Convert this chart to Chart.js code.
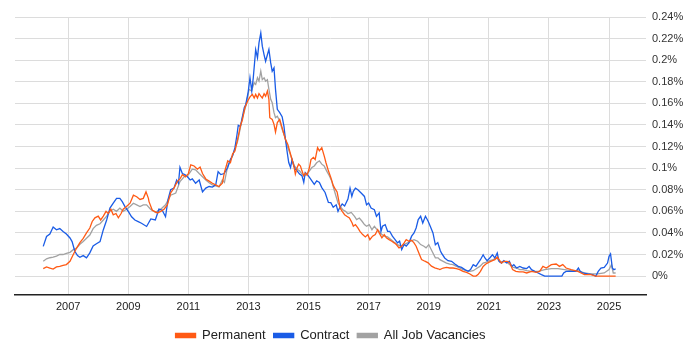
<!DOCTYPE html>
<html>
<head>
<meta charset="utf-8">
<script src="https://cdn.jsdelivr.net/npm/chart.js@4.4.1/dist/chart.umd.min.js"></script>
<style>
html,body{margin:0;padding:0;background:#fff;}
#wrap{width:700px;height:350px;position:relative;}
</style>
</head>
<body>
<div id="wrap"><canvas id="c" width="700" height="350"></canvas></div>
<script>
// X tick labels (years)
const tickYears = [2007, 2009, 2011, 2013, 2015, 2017, 2019, 2021, 2023, 2025];
// Y ticks (percent)
const yTicks = [0, 0.02, 0.04, 0.06, 0.08, 0.1, 0.12, 0.14, 0.16, 0.18, 0.2, 0.22, 0.24];

// Permanent series
const permYears = [2006.17,2006.28,2006.39,2006.5,2006.61,2006.72,2006.83,2006.94,2007.06,2007.17,2007.28,2007.39,2007.5,2007.61,2007.72,2007.8,2007.89,2008.0,2008.08,2008.17,2008.26,2008.33,2008.42,2008.5,2008.59,2008.67,2008.76,2008.83,2008.94,2009.06,2009.17,2009.28,2009.39,2009.5,2009.59,2009.67,2009.69,2009.8,2009.97,2010.08,2010.19,2010.3,2010.41,2010.52,2010.63,2010.72,2010.8,2010.91,2011.0,2011.08,2011.19,2011.3,2011.39,2011.47,2011.58,2011.69,2011.8,2011.91,2012.02,2012.13,2012.2,2012.31,2012.4,2012.47,2012.55,2012.64,2012.73,2012.8,2012.88,2012.97,2013.05,2013.13,2013.19,2013.24,2013.3,2013.35,2013.41,2013.46,2013.52,2013.57,2013.63,2013.68,2013.71,2013.79,2013.85,2013.9,2013.96,2014.04,2014.12,2014.18,2014.23,2014.31,2014.37,2014.45,2014.51,2014.56,2014.62,2014.67,2014.73,2014.78,2014.84,2014.89,2014.95,2015.03,2015.08,2015.16,2015.22,2015.3,2015.36,2015.44,2015.52,2015.58,2015.66,2015.74,2015.82,2015.9,2015.95,2016.01,2016.05,2016.12,2016.2,2016.27,2016.36,2016.45,2016.49,2016.56,2016.64,2016.71,2016.8,2016.89,2016.97,2017.04,2017.13,2017.22,2017.3,2017.35,2017.44,2017.52,2017.59,2017.68,2017.77,2017.85,2017.92,2018.01,2018.1,2018.18,2018.25,2018.34,2018.43,2018.51,2018.58,2018.67,2018.76,2018.87,2018.98,2019.09,2019.2,2019.31,2019.37,2019.48,2019.59,2019.7,2019.81,2019.92,2020.03,2020.14,2020.26,2020.37,2020.48,2020.57,2020.64,2020.72,2020.81,2020.9,2021.01,2021.12,2021.2,2021.28,2021.34,2021.42,2021.5,2021.61,2021.7,2021.79,2021.9,2022.01,2022.14,2022.26,2022.42,2022.58,2022.69,2022.8,2022.91,2023.08,2023.24,2023.35,2023.46,2023.57,2023.74,2023.96,2024.07,2024.18,2024.4,2024.56,2024.84,2025.05,2025.22];
const permValues = [0.0069,0.0085,0.0075,0.0065,0.0085,0.009,0.010,0.0107,0.0137,0.020,0.026,0.031,0.035,0.040,0.0445,0.0506,0.054,0.0555,0.052,0.0555,0.060,0.058,0.062,0.0568,0.058,0.054,0.058,0.062,0.0645,0.0675,0.075,0.0735,0.071,0.072,0.078,0.072,0.069,0.061,0.0585,0.060,0.062,0.066,0.077,0.0815,0.0875,0.090,0.094,0.092,0.095,0.103,0.102,0.099,0.101,0.095,0.090,0.088,0.086,0.0845,0.083,0.086,0.096,0.1068,0.105,0.113,0.116,0.1268,0.139,0.145,0.156,0.162,0.166,0.1683,0.165,0.1683,0.165,0.169,0.1667,0.165,0.169,0.1667,0.1714,0.1637,0.1467,0.1452,0.1406,0.1335,0.1422,0.1452,0.1375,0.1314,0.1268,0.122,0.116,0.108,0.102,0.0945,0.1006,0.1037,0.102,0.0975,0.093,0.0954,0.0935,0.1006,0.108,0.110,0.108,0.119,0.116,0.119,0.1114,0.105,0.0975,0.0914,0.084,0.080,0.078,0.0692,0.063,0.060,0.0569,0.0554,0.0538,0.0492,0.0462,0.0477,0.0446,0.0415,0.0385,0.0363,0.0385,0.0338,0.037,0.0385,0.043,0.040,0.0354,0.0385,0.0354,0.0338,0.0323,0.0308,0.0292,0.0262,0.0277,0.0308,0.0338,0.0323,0.0332,0.0308,0.0277,0.0215,0.0154,0.0138,0.0123,0.0092,0.0077,0.0068,0.006,0.0075,0.0081,0.0075,0.0075,0.007,0.006,0.0044,0.0035,0.002,0.0,0.0,0.0014,0.0044,0.009,0.0112,0.013,0.0143,0.0152,0.0176,0.0152,0.0121,0.0137,0.0137,0.0121,0.006,0.0044,0.004,0.004,0.0029,0.0044,0.0035,0.0044,0.009,0.0075,0.0106,0.0112,0.009,0.0106,0.0075,0.006,0.0044,0.0029,0.0014,0.0014,0.0,0.0,0.0,0.0];

// Contract series
const contYears = [2006.17,2006.28,2006.39,2006.5,2006.61,2006.72,2006.83,2006.94,2007.06,2007.13,2007.22,2007.31,2007.39,2007.5,2007.61,2007.72,2007.83,2007.94,2008.06,2008.17,2008.28,2008.39,2008.5,2008.61,2008.72,2008.8,2008.89,2009.0,2009.11,2009.22,2009.33,2009.44,2009.61,2009.75,2009.9,2010.02,2010.13,2010.24,2010.32,2010.41,2010.52,2010.61,2010.67,2010.72,2010.8,2010.88,2010.97,2011.06,2011.13,2011.24,2011.36,2011.47,2011.58,2011.69,2011.8,2011.91,2011.99,2012.08,2012.19,2012.31,2012.4,2012.47,2012.55,2012.62,2012.66,2012.73,2012.8,2012.86,2012.91,2012.99,2013.05,2013.11,2013.16,2013.24,2013.3,2013.35,2013.41,2013.46,2013.52,2013.57,2013.63,2013.68,2013.74,2013.79,2013.85,2013.9,2013.96,2014.04,2014.12,2014.18,2014.23,2014.29,2014.34,2014.4,2014.45,2014.51,2014.56,2014.62,2014.7,2014.78,2014.84,2014.89,2014.95,2015.03,2015.11,2015.19,2015.27,2015.36,2015.44,2015.55,2015.66,2015.74,2015.82,2015.92,2015.98,2016.03,2016.12,2016.2,2016.31,2016.38,2016.44,2016.49,2016.56,2016.64,2016.75,2016.86,2016.93,2017.0,2017.08,2017.19,2017.26,2017.35,2017.41,2017.46,2017.55,2017.63,2017.7,2017.79,2017.88,2017.96,2018.03,2018.1,2018.18,2018.25,2018.34,2018.43,2018.51,2018.58,2018.65,2018.73,2018.8,2018.89,2018.98,2019.05,2019.14,2019.22,2019.3,2019.38,2019.42,2019.53,2019.64,2019.76,2019.87,2019.98,2020.09,2020.2,2020.31,2020.39,2020.48,2020.57,2020.64,2020.72,2020.81,2020.87,2020.94,2021.03,2021.12,2021.2,2021.28,2021.34,2021.42,2021.5,2021.59,2021.68,2021.76,2021.83,2021.92,2022.03,2022.14,2022.26,2022.34,2022.42,2022.53,2022.64,2022.75,2022.86,2023.08,2023.3,2023.43,2023.49,2023.57,2023.74,2023.9,2023.98,2024.04,2024.12,2024.29,2024.45,2024.56,2024.64,2024.73,2024.84,2024.95,2025.0,2025.05,2025.11,2025.16,2025.22];
const contValues = [0.0275,0.0367,0.039,0.0454,0.0429,0.044,0.0414,0.039,0.0353,0.032,0.023,0.019,0.0175,0.019,0.017,0.0215,0.028,0.030,0.032,0.043,0.052,0.063,0.0675,0.072,0.072,0.069,0.0644,0.060,0.055,0.052,0.0505,0.049,0.046,0.053,0.052,0.062,0.061,0.055,0.0706,0.080,0.0815,0.089,0.086,0.1008,0.095,0.094,0.092,0.089,0.090,0.086,0.089,0.078,0.0815,0.083,0.0825,0.0845,0.0967,0.094,0.095,0.1006,0.1083,0.1114,0.119,0.1314,0.1397,0.1385,0.148,0.156,0.159,0.1705,0.1837,0.1714,0.1837,0.2098,0.2022,0.216,0.2252,0.213,0.205,0.199,0.205,0.210,0.1975,0.1898,0.193,0.173,0.1545,0.1514,0.1477,0.139,0.1268,0.1145,0.1052,0.1006,0.108,0.102,0.099,0.0975,0.0945,0.093,0.0868,0.096,0.0945,0.0914,0.0883,0.085,0.0883,0.0868,0.082,0.0775,0.0683,0.068,0.0637,0.066,0.06,0.063,0.0668,0.065,0.0714,0.0815,0.0738,0.0785,0.0815,0.080,0.077,0.0738,0.066,0.0677,0.063,0.0615,0.0554,0.0585,0.0415,0.0462,0.0477,0.0415,0.0415,0.037,0.0338,0.0308,0.0323,0.0246,0.0292,0.0277,0.0308,0.037,0.040,0.0446,0.0523,0.0554,0.0492,0.0554,0.0508,0.0462,0.040,0.029,0.031,0.024,0.0215,0.0168,0.0143,0.0137,0.0112,0.009,0.0081,0.006,0.0044,0.006,0.0106,0.009,0.0121,0.0152,0.0198,0.0168,0.0143,0.0168,0.0198,0.0168,0.0214,0.0137,0.0121,0.0143,0.0121,0.0137,0.009,0.0106,0.0075,0.009,0.0075,0.007,0.009,0.006,0.0044,0.0029,0.0014,0.0,0.0,0.0,0.0,0.0029,0.0044,0.0044,0.0044,0.0075,0.0044,0.0029,0.002,0.0014,0.0,0.0044,0.0075,0.0081,0.0121,0.0183,0.0205,0.0075,0.006,0.0066];

// All Job Vacancies series
const allYears = [2006.17,2006.28,2006.39,2006.5,2006.61,2006.72,2006.83,2006.94,2007.06,2007.17,2007.28,2007.39,2007.5,2007.61,2007.72,2007.83,2007.94,2008.06,2008.17,2008.28,2008.39,2008.5,2008.61,2008.72,2008.83,2008.94,2009.06,2009.17,2009.28,2009.39,2009.5,2009.61,2009.74,2009.91,2010.08,2010.24,2010.41,2010.58,2010.72,2010.86,2011.0,2011.13,2011.24,2011.36,2011.47,2011.58,2011.69,2011.8,2011.91,2012.02,2012.13,2012.2,2012.31,2012.47,2012.64,2012.8,2012.91,2013.02,2013.1,2013.19,2013.24,2013.3,2013.35,2013.41,2013.46,2013.52,2013.57,2013.63,2013.68,2013.74,2013.79,2013.85,2013.9,2013.96,2014.04,2014.12,2014.2,2014.29,2014.37,2014.45,2014.53,2014.62,2014.7,2014.78,2014.86,2014.95,2015.03,2015.11,2015.19,2015.27,2015.36,2015.44,2015.52,2015.6,2015.69,2015.77,2015.85,2015.98,2016.05,2016.14,2016.23,2016.31,2016.42,2016.53,2016.6,2016.69,2016.78,2016.86,2016.93,2017.02,2017.11,2017.19,2017.26,2017.35,2017.44,2017.52,2017.63,2017.74,2017.85,2017.96,2018.07,2018.18,2018.29,2018.4,2018.51,2018.63,2018.73,2018.84,2018.91,2019.0,2019.11,2019.22,2019.31,2019.37,2019.48,2019.59,2019.7,2019.81,2019.92,2020.03,2020.14,2020.26,2020.37,2020.48,2020.59,2020.7,2020.81,2020.92,2021.03,2021.14,2021.26,2021.37,2021.48,2021.59,2021.7,2021.81,2021.92,2022.03,2022.14,2022.26,2022.42,2022.64,2022.86,2023.08,2023.3,2023.52,2023.74,2023.96,2024.18,2024.4,2024.62,2024.84,2025.0,2025.08,2025.14,2025.22];
const allValues = [0.0137,0.016,0.017,0.0175,0.0185,0.020,0.020,0.021,0.022,0.0245,0.026,0.0295,0.032,0.035,0.038,0.044,0.047,0.0485,0.052,0.0555,0.060,0.062,0.060,0.063,0.060,0.062,0.0645,0.0675,0.066,0.0645,0.066,0.066,0.062,0.059,0.062,0.066,0.075,0.077,0.0875,0.092,0.094,0.099,0.0985,0.095,0.092,0.089,0.0865,0.0845,0.0835,0.0825,0.089,0.0868,0.102,0.1114,0.125,0.1468,0.1575,0.173,0.1714,0.179,0.1775,0.1837,0.1806,0.1898,0.182,0.1837,0.1806,0.182,0.173,0.1637,0.1606,0.1514,0.1468,0.148,0.1437,0.136,0.1298,0.1206,0.1145,0.108,0.102,0.099,0.0975,0.0945,0.093,0.0945,0.0975,0.1006,0.102,0.105,0.1068,0.1037,0.102,0.0975,0.093,0.088,0.080,0.0677,0.0646,0.0615,0.060,0.0578,0.059,0.0554,0.0523,0.0538,0.0508,0.0477,0.0462,0.0477,0.043,0.0462,0.0437,0.0415,0.0385,0.037,0.0363,0.0338,0.0314,0.0292,0.0277,0.0292,0.0308,0.0323,0.0338,0.0323,0.0292,0.0277,0.0262,0.0292,0.0231,0.0169,0.0169,0.0152,0.0137,0.0121,0.0112,0.0106,0.009,0.0075,0.006,0.005,0.0044,0.005,0.007,0.009,0.0121,0.013,0.0143,0.0152,0.0168,0.013,0.0137,0.013,0.0106,0.0081,0.0075,0.006,0.006,0.005,0.0044,0.0044,0.006,0.007,0.007,0.006,0.005,0.005,0.0029,0.002,0.002,0.0029,0.006,0.0106,0.0029,0.0029];

const toPoints = (xs, ys) => xs.map((x, i) => ({ x: x, y: ys[i] }));

const ctx = document.getElementById('c').getContext('2d');
new Chart(ctx, {
  type: 'line',
  data: {
    datasets: [
      { label: 'Permanent', data: toPoints(permYears, permValues), borderColor: '#FF5A14', backgroundColor: '#FF5A14', borderWidth: 1.3, pointRadius: 0, tension: 0 },
      { label: 'Contract', data: toPoints(contYears, contValues), borderColor: '#1A5CE6', backgroundColor: '#1A5CE6', borderWidth: 1.3, pointRadius: 0, tension: 0 },
      { label: 'All Job Vacancies', data: toPoints(allYears, allValues), borderColor: '#A2A2A2', backgroundColor: '#A2A2A2', borderWidth: 1.3, pointRadius: 0, tension: 0 }
    ]
  },
  options: {
    responsive: false,
    animation: false,
    events: [],
    layout: { padding: { left: 15, top: 17, right: 0, bottom: -2 } },
    plugins: {
      tooltip: { enabled: false },
      legend: {
        position: 'bottom',
        fullSize: false,
        labels: {
          boxWidth: 20, boxHeight: 4, padding: 8,
          color: '#222',
          font: { family: 'Arial, "Liberation Sans", sans-serif', size: 13 }
        }
      }
    },
    scales: {
      x: {
        type: 'linear',
        min: 2005.23, max: 2026.23,
        afterBuildTicks: (s) => { s.ticks = tickYears.map(v => ({ value: v })); },
        afterFit: (s) => { s.height = 26; },
        ticks: {
          callback: (v) => String(v),
          color: '#222', padding: 5, maxRotation: 0, autoSkip: false,
          font: { family: 'Arial, "Liberation Sans", sans-serif', size: 11 }
        },
        grid: { color: '#dcdcdc', drawTicks: false, lineWidth: 1 },
        border: { display: true, color: '#222', width: 1.5 }
      },
      y: {
        position: 'right',
        min: -0.0175, max: 0.24,
        afterBuildTicks: (s) => { s.ticks = yTicks.map(v => ({ value: v })); },
        afterFit: (s) => { s.width = 54; },
        ticks: {
          callback: (v) => parseFloat(v.toFixed(2)) + '%',
          color: '#333', padding: 6, autoSkip: false,
          font: { family: 'Arial, "Liberation Sans", sans-serif', size: 11 }
        },
        grid: { color: '#dcdcdc', drawTicks: false, lineWidth: 1 },
        border: { display: false }
      }
    }
  }
});
</script>
</body>
</html>
